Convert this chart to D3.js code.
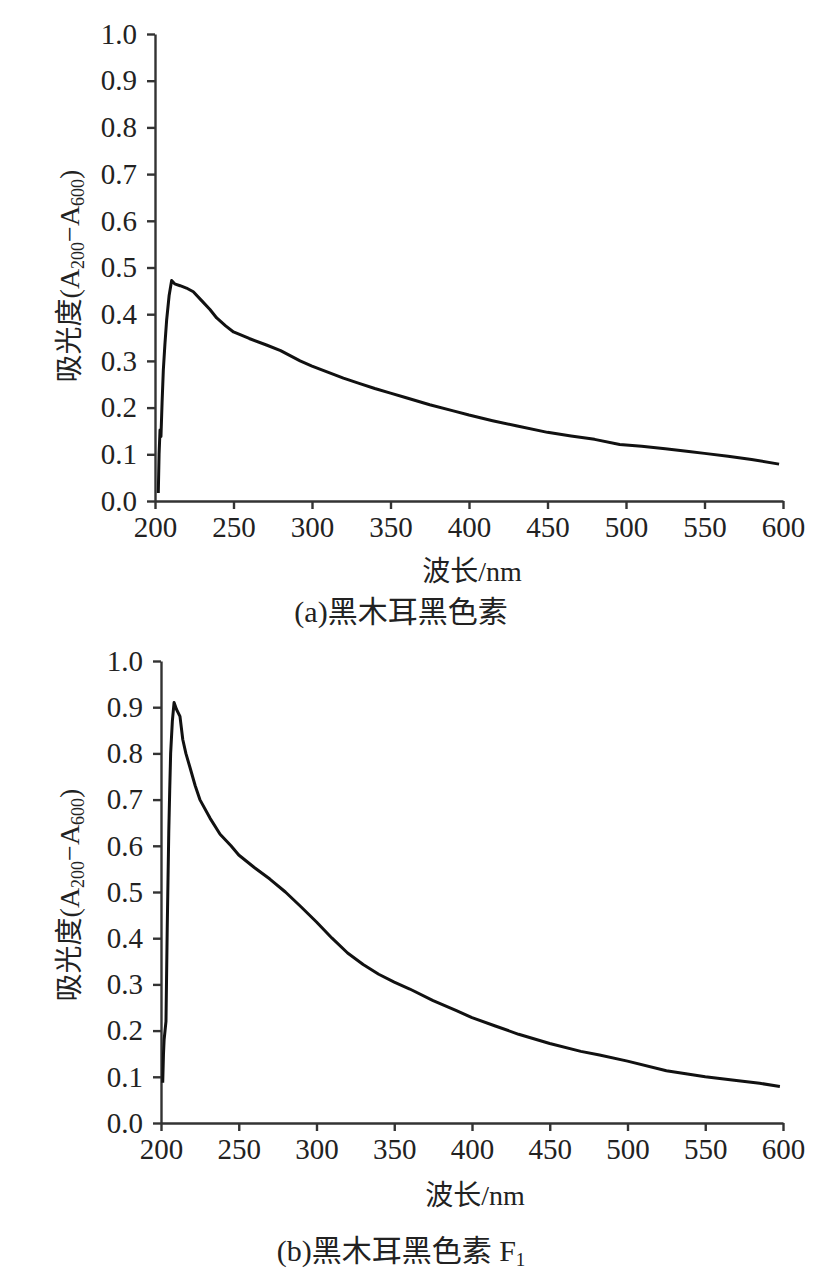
<!DOCTYPE html>
<html>
<head>
<meta charset="utf-8">
<script src="https://cdn.jsdelivr.net/npm/d3@7"></script>
<style>
  body { margin: 0; background: #fff; }
  svg text { font-family: "Liberation Serif", "Times New Roman", "Noto Sans CJK SC", serif; fill: #222; }
  .axis path, .axis line { stroke: #333; stroke-width: 2.4; }
</style>
</head>
<body>
<div id="chart"></div>
<script>
// wavelength (nm) and absorbance
var waveA = [202.1, 202.6, 203.2, 203.8, 204.5, 205.3, 206.3, 207.4, 209.0, 210.6, 212.5, 216, 220, 224.4, 230, 235, 239.3, 245, 250, 260, 271, 280, 292.4, 300, 310, 320, 330, 340, 350, 360, 375, 390, 400, 415, 430, 450, 465, 480, 496, 510, 525, 540, 550, 565, 580, 597.5];
var absA  = [0.017, 0.100, 0.152, 0.138, 0.210, 0.280, 0.335, 0.387, 0.440, 0.472, 0.465, 0.461, 0.456, 0.448, 0.428, 0.410, 0.392, 0.375, 0.362, 0.348, 0.334, 0.322, 0.300, 0.289, 0.276, 0.263, 0.252, 0.241, 0.231, 0.221, 0.206, 0.193, 0.184, 0.172, 0.161, 0.147, 0.139, 0.132, 0.121, 0.117, 0.112, 0.106, 0.102, 0.096, 0.089, 0.079];

var waveB = [201.1, 201.6, 202.0, 202.6, 203.2, 204.0, 205.0, 205.6, 206.2, 207.3, 208.4, 210, 212.2, 214, 216, 218.6, 222, 225, 231.5, 238, 245, 250, 260, 270, 280, 290, 300, 310, 320, 330, 340, 350, 360, 375, 390, 400, 415, 430, 450, 470, 482, 500, 525, 550, 570, 585, 598];
var absB  = [0.087, 0.150, 0.180, 0.200, 0.220, 0.420, 0.630, 0.720, 0.800, 0.870, 0.910, 0.895, 0.880, 0.830, 0.800, 0.770, 0.730, 0.700, 0.660, 0.625, 0.600, 0.580, 0.553, 0.528, 0.500, 0.468, 0.435, 0.400, 0.368, 0.343, 0.322, 0.305, 0.290, 0.265, 0.243, 0.228, 0.210, 0.192, 0.172, 0.155, 0.147, 0.134, 0.113, 0.100, 0.092, 0.086, 0.079];

var xTicks = [200, 250, 300, 350, 400, 450, 500, 550, 600];
var yTicks = [0, 0.1, 0.2, 0.3, 0.4, 0.5, 0.6, 0.7, 0.8, 0.9, 1.0];
var captions = ['(a)黑木耳黑色素', '(b)黑木耳黑色素 F'];

var w = 838, h = 1273,
    serif = '"Liberation Serif", "Times New Roman", "Noto Sans CJK SC", serif';

var svg = d3.select('#chart')
  .append('svg')
  .attr('width', w)
  .attr('height', h)
  .attr('viewBox', '0 0 ' + w + ' ' + h);

var panels = [
  { wave: waveA, abs: absA, left: 155, right: 783, top: 34, bottom: 501,
    ylabY: 276, titleY: 581, capY: 622, cap: captions[0], sub: null },
  { wave: waveB, abs: absB, left: 161, right: 783, top: 661, bottom: 1123,
    ylabY: 895, titleY: 1205, capY: 1261, cap: captions[1], sub: '1' }
];

function styleTicks(a) {
  a.attr('font-family', serif);
  a.selectAll('text')
    .style('font-family', serif)
    .style('font-size', '29px')
    .attr('fill', '#222');
}

panels.forEach(function (p) {
  var x = d3.scaleLinear().domain([200, 600]).range([p.left, p.right]);
  var y = d3.scaleLinear().domain([0, 1]).range([p.bottom, p.top]);

  var g = svg.append('g');

  g.append('g')
    .attr('class', 'axis')
    .attr('transform', 'translate(0,' + p.bottom + ')')
    .call(d3.axisBottom(x).tickValues(xTicks).tickSize(8).tickSizeOuter(0).tickPadding(7)
      .tickFormat(d3.format('d')))
    .call(styleTicks);

  g.append('g')
    .attr('class', 'axis')
    .attr('transform', 'translate(' + p.left + ',0)')
    .call(d3.axisLeft(y).tickValues(yTicks).tickSize(8).tickSizeOuter(0).tickPadding(10)
      .tickFormat(d3.format('.1f')))
    .call(styleTicks);

  var pts = p.wave.map(function (d, i) { return [d, p.abs[i]]; });
  var line = d3.line()
    .x(function (d) { return x(d[0]); })
    .y(function (d) { return y(d[1]); });

  g.append('path')
    .datum(pts)
    .attr('d', line)
    .attr('fill', 'none')
    .attr('stroke', '#111')
    .attr('stroke-width', 3)
    .attr('stroke-linejoin', 'round');

  // y axis title
  var yl = g.append('text')
    .attr('transform', 'translate(79,' + p.ylabY + ') rotate(-90)')
    .attr('text-anchor', 'middle')
    .attr('font-size', 28);
  yl.append('tspan').text('吸光度(A');
  yl.append('tspan').text('200').attr('font-size', 18).attr('dy', 5);
  yl.append('tspan').text('−A').attr('dy', -5);
  yl.append('tspan').text('600').attr('font-size', 18).attr('dy', 5);
  yl.append('tspan').text(')').attr('dy', -5);

  // x axis title
  g.append('text')
    .attr('x', (p.left + p.right) / 2 + 3)
    .attr('y', p.titleY)
    .attr('text-anchor', 'middle')
    .attr('font-size', 28)
    .text('波长/nm');

  // caption
  var c = g.append('text')
    .attr('x', 401)
    .attr('y', p.capY)
    .attr('text-anchor', 'middle')
    .attr('font-size', 30);
  c.append('tspan').text(p.cap);
  if (p.sub) {
    c.append('tspan').text(p.sub).attr('font-size', 19).attr('dy', 5);
  }
});
</script>
</body>
</html>
